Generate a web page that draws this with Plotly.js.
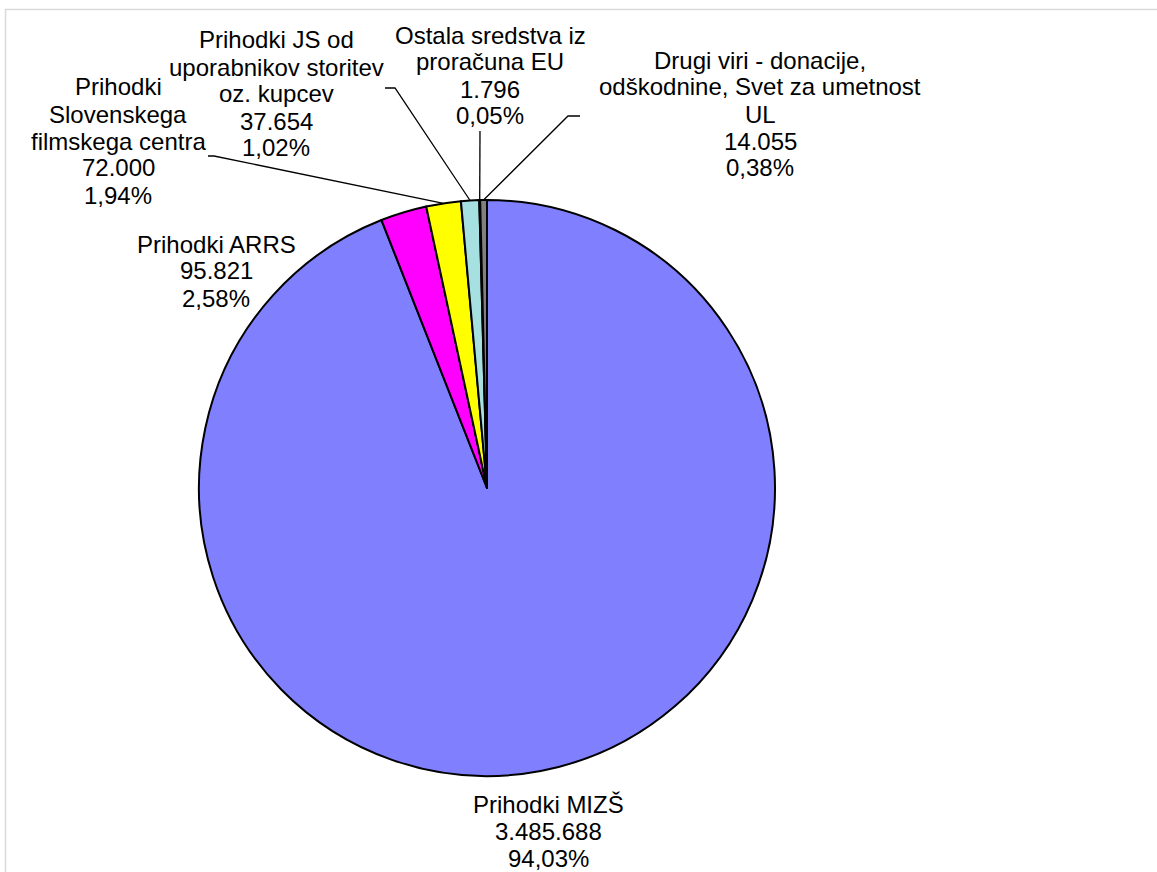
<!DOCTYPE html>
<html>
<head>
<meta charset="utf-8">
<script src="https://cdn.plot.ly/plotly-3.0.1.min.js"></script>
<style>
  html, body { margin: 0; padding: 0; background: #ffffff; }
  #chart { width: 1157px; height: 872px; }
</style>
</head>
<body>
<div id="chart"></div>
<script>
// ---- data ----
const categories = [
  'Prihodki MIZŠ',
  'Prihodki ARRS',
  'Prihodki Slovenskega filmskega centra',
  'Prihodki JS od uporabnikov storitev oz. kupcev',
  'Ostala sredstva iz proračuna EU',
  'Drugi viri - donacije, odškodnine, Svet za umetnost UL'
];
const values = [3485688, 95821, 72000, 37654, 1796, 14055];
const labelLines = [
  ['Prihodki MIZŠ'],
  ['Prihodki ARRS'],
  ['Prihodki', 'Slovenskega', 'filmskega centra'],
  ['Prihodki JS od', 'uporabnikov storitev', 'oz. kupcev'],
  ['Ostala sredstva iz', 'proračuna EU'],
  ['Drugi viri - donacije,', 'odškodnine, Svet za umetnost', 'UL']
];
const colors = ['#8080FF', '#FF00FF', '#FFFF00', '#A6E0E0', '#333399', '#808080'];

// ---- layout (pixels) ----
const W = 1157, H = 872;
const pieCx = 487, pieCy = 488, pieR = 288;
// centre of first text line of each label
const labelPos = [
  {x: 548, y: 804}, {x: 216, y: 244}, {x: 118, y: 87},
  {x: 276, y: 40}, {x: 490, y: 35}, {x: 760, y: 60}
];
// leader line start + stub end (null = no leader)
const leaders = [
  null, null,
  {x0: 208, y0: 156, x1: 214, y1: 156},
  {x0: 385, y0: 88, x1: 395, y1: 88},
  {x0: 480, y0: 131, x1: 480, y1: 131},
  {x0: 580, y0: 116, x1: 568, y1: 116}
];
const lineGap = 27;

function fmtInt(v) {
  return String(v).replace(/\B(?=(\d{3})+(?!\d))/g, '.');
}
const total = values.reduce((a, b) => a + b, 0);
function fmtPct(v) {
  return (v / total * 100).toFixed(2).replace('.', ',') + '%';
}

const px = x => x / W;
const py = y => 1 - y / H;

const annotations = [];
const shapes = [];
let cum = 0;
values.forEach((v, i) => {
  const mid = (cum + v / 2) / total;
  cum += v;
  const lines = labelLines[i].concat([fmtInt(v), fmtPct(v)]);
  lines.forEach((t, k) => {
    annotations.push({
      xref: 'paper', yref: 'paper',
      x: px(labelPos[i].x), y: py(labelPos[i].y + k * lineGap),
      xanchor: 'center', yanchor: 'middle',
      text: t, showarrow: false,
      font: {family: 'Liberation Sans, Arial, sans-serif', size: 24, color: '#000000'}
    });
  });
  const ld = leaders[i];
  if (ld) {
    const th = 2 * Math.PI * mid;
    const tx = pieCx + pieR * Math.sin(th);
    const ty = pieCy - pieR * Math.cos(th);
    shapes.push({
      type: 'path', xref: 'paper', yref: 'paper',
      path: `M ${px(ld.x0)} ${py(ld.y0)} L ${px(ld.x1)} ${py(ld.y1)} L ${px(tx)} ${py(ty)}`,
      line: {color: '#000000', width: 1.3}
    });
  }
});

// light frame
shapes.push({
  type: 'rect', xref: 'paper', yref: 'paper',
  x0: px(5.5), x1: 1.05, y0: -0.05, y1: py(9.5),
  line: {color: '#d9d9d9', width: 1.5}, fillcolor: 'rgba(0,0,0,0)'
});

const trace = {
  type: 'pie',
  labels: categories,
  values: values,
  sort: false,
  direction: 'clockwise',
  rotation: 0,
  textinfo: 'none',
  hoverinfo: 'none',
  marker: {colors: colors, line: {color: '#000000', width: 2}},
  domain: {
    x: [px(pieCx - pieR), px(pieCx + pieR)],
    y: [py(pieCy + pieR), py(pieCy - pieR)]
  },
  showlegend: false
};

Plotly.newPlot('chart', [trace], {
  width: W, height: H,
  margin: {l: 0, r: 0, t: 0, b: 0},
  paper_bgcolor: '#ffffff',
  plot_bgcolor: '#ffffff',
  showlegend: false,
  annotations: annotations,
  shapes: shapes
}, {displayModeBar: false, staticPlot: true});
</script>
</body>
</html>
